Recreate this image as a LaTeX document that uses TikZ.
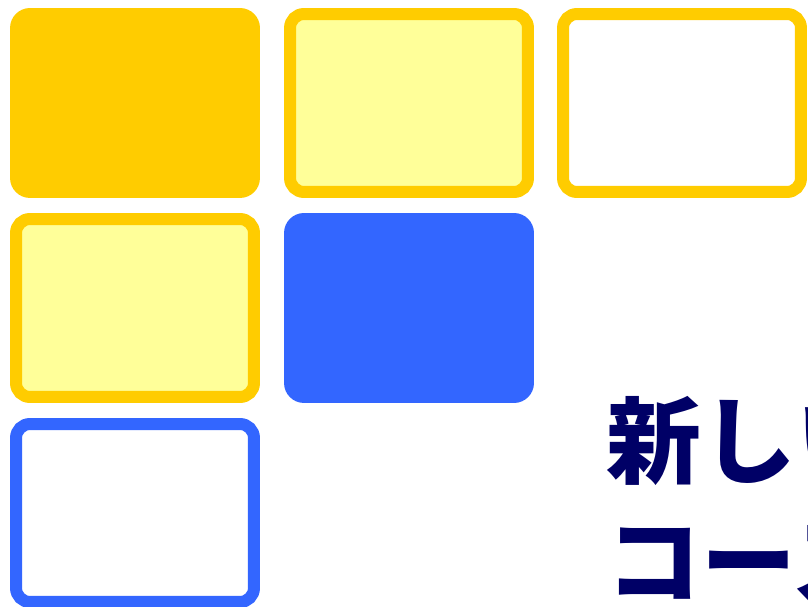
\documentclass[tikz,border=0pt]{standalone}
\usepackage{fontspec}
\newfontfamily\jpfont{Noto Sans CJK JP}
\usepackage{tikz}
\usetikzlibrary{positioning}
\definecolor{tlYellow}{RGB}{255, 204, 0}
\definecolor{tlPale}{RGB}{255, 255, 153}
\definecolor{tlBlue}{RGB}{51, 102, 255}
\definecolor{tlNavy}{RGB}{0, 0, 102}
\tikzset{
    tile/.style={
        rectangle,
        inner sep=0pt,
        outer sep=0pt
    },
    solidtile/.style={
        tile,
        minimum width=5cm,
        minimum height=3.8cm,
        rounded corners=0.4cm
    },
    ringtile/.style={
        tile,
        minimum width=4.76cm,
        minimum height=3.56cm,
        rounded corners=0.28cm,
        line width=0.24cm
    },
    headline/.style={
        font=\jpfont\bfseries\fontsize{54}{64}\selectfont,
        text=tlNavy,
        inner sep=0pt,
        anchor=base west
    }
}

\begin{document}
\begin{tikzpicture}[x=0.02cm, y=-0.02cm]
  \useasboundingbox (0,0) rectangle (808,607);
  \clip (0,0) rectangle (808,607);

  % Tiles
  \node[solidtile, fill=tlYellow] (full) at (135,103) {};
  \node[ringtile, draw=tlYellow, fill=tlPale] (paleA) at (409,103) {};
  \node[ringtile, draw=tlYellow, fill=white] (emptyA) at (682,103) {};
  \node[ringtile, draw=tlYellow, fill=tlPale] (paleB) at (135,308) {};
  \node[solidtile, fill=tlBlue] (blue) at (409,308) {};
  \node[ringtile, draw=tlBlue, fill=white] (emptyB) at (135,513) {};

  % Title
  \node[headline] (lineA) at (606,477) {新しい};
  \node[headline] (lineB) at (606,597) {コース};
\end{tikzpicture}
\end{document}
